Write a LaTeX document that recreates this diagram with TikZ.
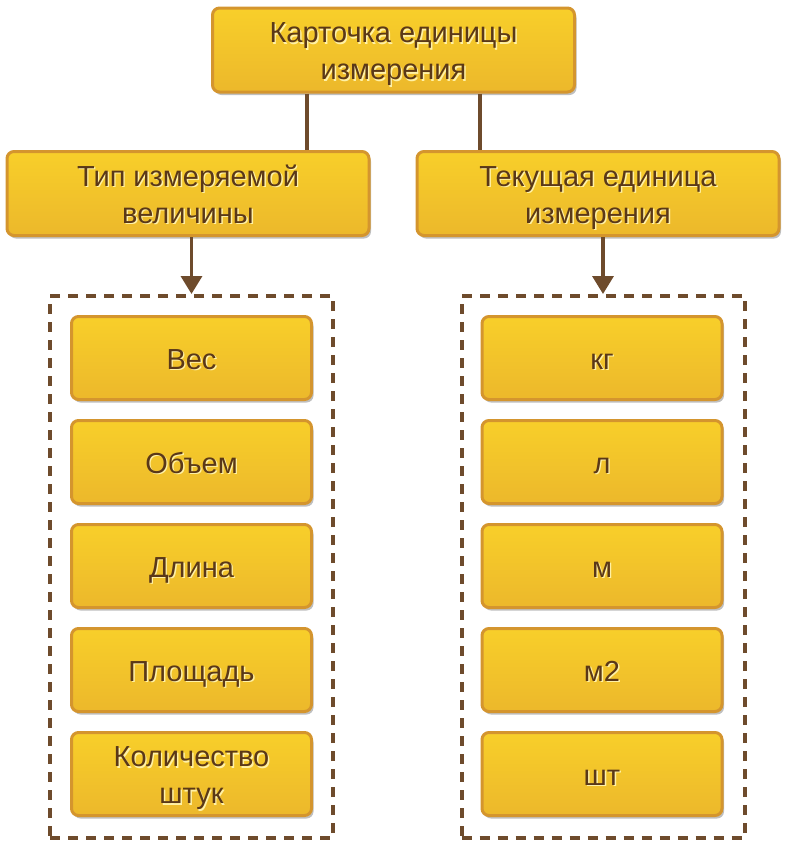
\documentclass[tikz,border=0pt]{standalone}
\usepackage{fontspec}
\setmainfont{Liberation Sans}
\usetikzlibrary{shadows,arrows.meta}
\definecolor{boxborder}{HTML}{D4952E}
\definecolor{fillTop}{HTML}{F8CF2A}
\definecolor{fillMid}{HTML}{FAD823}
\definecolor{fillBot}{HTML}{ECB82B}
\definecolor{txt}{HTML}{5A3818}
\definecolor{halo}{HTML}{FFF1A6}
\definecolor{conn}{HTML}{6E4B2C}
\newcommand\boxtext[1]{\raisebox{-4.5pt}[\height][\depth]{%
  \rlap{\kern1.4pt\raisebox{-1.4pt}{\color{halo}\begin{tabular}{@{}c@{}}#1\end{tabular}}}%
  \begin{tabular}{@{}c@{}}#1\end{tabular}}}
\tikzset{
  ybox/.style={draw=boxborder, line width=3pt, rounded corners=7pt,
    top color=fillTop, middle color=fillMid, bottom color=fillBot,
    drop shadow={shadow xshift=2pt, shadow yshift=-3pt, opacity=0.25, fill=black},
    text=txt, align=center, font=\fontsize{29}{37}\selectfont, inner sep=0pt},
  bigbox/.style={ybox, minimum width=362pt, minimum height=84pt},
  smallbox/.style={ybox, minimum width=240pt, minimum height=83pt},
  groupbox/.style={draw=conn, line width=4pt, dash pattern=on 10pt off 8pt,
    minimum width=283pt, minimum height=542pt, inner sep=0pt},
  link/.style={draw=conn, line width=3.5pt},
  arrowlink/.style={link, -{Triangle[width=21pt,length=18pt]}},
}
\begin{document}
\begin{tikzpicture}[x=1pt,y=1pt]
\useasboundingbox (0,0) rectangle (795,-849);
\node[bigbox] (top) at (393.5,-50) {\boxtext{Карточка единицы\\измерения}};
\node[bigbox] (typ) at (188,-193.5) {\boxtext{Тип измеряемой\\величины}};
\node[bigbox] (cur) at (598,-193.5) {\boxtext{Текущая единица\\измерения}};
\node[groupbox] (lg) at (191.5,-567) {};
\node[groupbox] (rg) at (603,-567) {};
\node[smallbox] (l1) at (191.5,-358) {\boxtext{Вес}};
\node[smallbox] (l2) at (191.5,-462) {\boxtext{Объем}};
\node[smallbox] (l3) at (191.5,-566) {\boxtext{Длина}};
\node[smallbox] (l4) at (191.5,-670) {\boxtext{Площадь}};
\node[smallbox] (l5) at (191.5,-774) {\boxtext{Количество\\штук}};
\node[smallbox] (r1) at (602,-358) {\boxtext{кг}};
\node[smallbox] (r2) at (602,-462) {\boxtext{л}};
\node[smallbox] (r3) at (602,-566) {\boxtext{м}};
\node[smallbox] (r4) at (602,-670) {\boxtext{м2}};
\node[smallbox] (r5) at (602,-774) {\boxtext{шт}};
\coordinate (cl) at (307,0);
\coordinate (cr) at (480,0);
\path[link] (top.south -| cl) -- (typ.north -| cl);
\path[link] (top.south -| cr) -- (cur.north -| cr);
\path[arrowlink] (typ.south -| lg.north) -- (lg.north);
\path[arrowlink] (cur.south -| rg.north) -- (rg.north);
\end{tikzpicture}
\end{document}
